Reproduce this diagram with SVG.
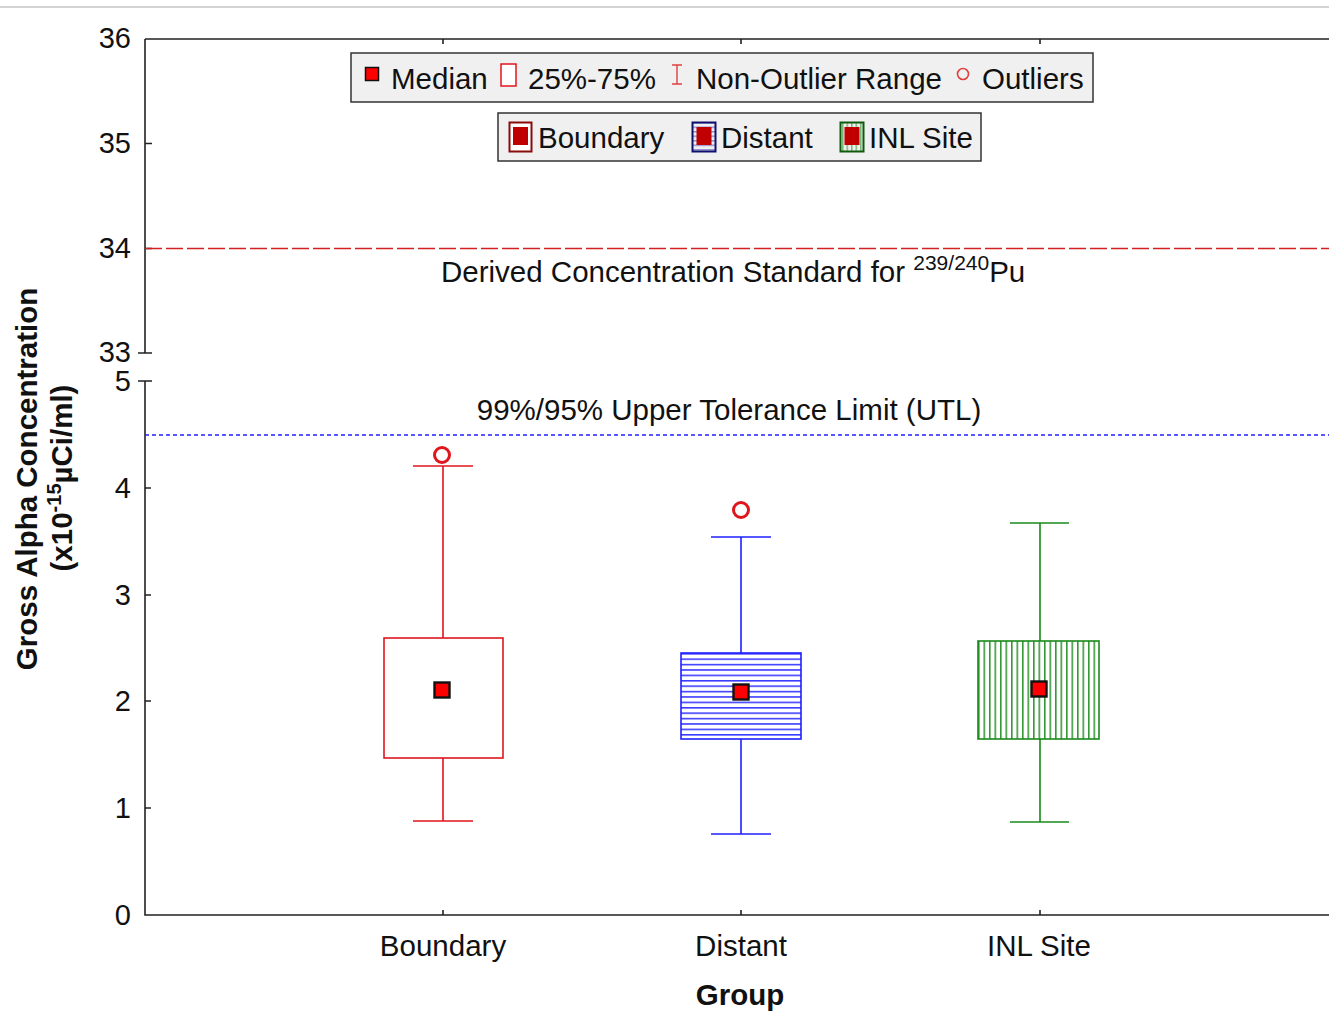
<svg xmlns="http://www.w3.org/2000/svg" width="1329" height="1011" viewBox="0 0 1329 1011">
<defs>
<style>
text{font-family:"Liberation Sans",Arial,sans-serif;fill:#111}
.t{font-size:29.5px}
.tick{font-size:29px;text-anchor:end}
.ax{stroke:#222;stroke-width:1.6;fill:none}
.med{fill:#ff0000;stroke:#111;stroke-width:2.4}
.red{stroke:#e0161e;stroke-width:1.6;fill:none}
.blue{stroke:#2020ff;stroke-width:1.6;fill:none}
.green{stroke:#1a8a1a;stroke-width:1.6;fill:none}
.leg{fill:#f0f0f0;stroke:#333;stroke-width:1.5}
.out{fill:none;stroke:#e0161e;stroke-width:3}
</style>
<pattern id="hh" patternUnits="userSpaceOnUse" x="0" y="653" width="10" height="5.4">
<line x1="0" y1="0.8" x2="10" y2="0.8" stroke="#2020ff" stroke-width="1.4"/>
</pattern>
<pattern id="vh" patternUnits="userSpaceOnUse" x="978" y="0" width="5.5" height="10">
<line x1="0.8" y1="0" x2="0.8" y2="10" stroke="#1a8a1a" stroke-width="1.4"/>
</pattern>
<pattern id="hh2" patternUnits="userSpaceOnUse" x="0" y="122" width="10" height="4.5">
<line x1="0" y1="0.8" x2="10" y2="0.8" stroke="#6060c0" stroke-width="1"/>
</pattern>
<pattern id="vh2" patternUnits="userSpaceOnUse" x="509" y="0" width="4.5" height="10">
<line x1="0.8" y1="0" x2="0.8" y2="10" stroke="#3a9a3a" stroke-width="1"/>
</pattern>
</defs>
<rect width="1329" height="1011" fill="#fff"/>
<line x1="0" y1="7" x2="1329" y2="7" stroke="#c4c4c4" stroke-width="1.5"/>

<g id="axes">
<path class="ax" d="M145,39 H1329 M145,39 V353 M138,353 H152 M145,143.5 H152 M145,248.5 H152 M443,39 V44 M741,39 V44 M1040,39 V44"/>
<path class="ax" d="M145,381 V915 H1329 M138,381 H152 M145,488 H151 M145,595 H151 M145,701 H151 M145,808 H151 M443,915 V910 M741,915 V910 M1040,915 V910"/>
<text class="tick" x="131" y="48">36</text>
<text class="tick" x="131" y="153">35</text>
<text class="tick" x="131" y="258">34</text>
<text class="tick" x="131" y="362">33</text>
<text class="tick" x="131" y="391">5</text>
<text class="tick" x="131" y="498">4</text>
<text class="tick" x="131" y="605">3</text>
<text class="tick" x="131" y="711">2</text>
<text class="tick" x="131" y="818">1</text>
<text class="tick" x="131" y="925">0</text>
<text class="t" x="443" y="956" text-anchor="middle">Boundary</text>
<text class="t" x="741" y="956" text-anchor="middle">Distant</text>
<text class="t" x="1039" y="956" text-anchor="middle">INL Site</text>
<text class="t" x="740" y="1005" text-anchor="middle" font-weight="bold">Group</text>
<g transform="rotate(-90)">
<text class="t" x="-479" y="37" text-anchor="middle" font-weight="bold">Gross Alpha Concentration</text>
<text class="t" x="-478" y="72" text-anchor="middle" font-weight="bold">(x10<tspan font-size="20" dy="-11">-15</tspan><tspan dy="11">µCi/ml)</tspan></text>
</g>
</g>

<g id="reference-lines">
<line x1="145" y1="248.5" x2="1329" y2="248.5" stroke="#d42020" stroke-width="1.6" stroke-dasharray="17,4"/>
<text class="t" x="441" y="282">Derived Concentration Standard for <tspan font-size="21" dy="-12">239/240</tspan><tspan dy="12">Pu</tspan></text>
<line x1="145" y1="435" x2="1329" y2="435" stroke="#2020ff" stroke-width="1.4" stroke-dasharray="4,3"/>
<text class="t" x="729" y="420" text-anchor="middle">99%/95% Upper Tolerance Limit (UTL)</text>
</g>

<g id="boundary">
<path class="red" d="M443,466 V638 M443,758 V821 M413,466 H473 M413,821 H473"/>
<rect x="384" y="638" width="119" height="120" fill="#fff" stroke="#e0161e" stroke-width="1.6"/>
<circle class="out" cx="442" cy="455" r="7.5"/>
<rect class="med" x="434.5" y="682.5" width="15" height="15"/>
</g>

<g id="distant">
<path class="blue" d="M741,537 V653 M741,739 V834 M711,537 H771 M711,834 H771"/>
<rect x="681" y="653" width="120" height="86" fill="url(#hh)" stroke="#2020ff" stroke-width="1.6"/>
<circle class="out" cx="741" cy="510" r="7.5"/>
<rect class="med" x="733.5" y="684.5" width="15" height="15"/>
</g>

<g id="inl-site">
<path class="green" d="M1040,523 V641 M1040,739 V822 M1010,523 H1069 M1010,822 H1069"/>
<rect x="978" y="641" width="121" height="98" fill="url(#vh)" stroke="#1a8a1a" stroke-width="1.6"/>
<rect class="med" x="1031.5" y="681.5" width="15" height="15"/>
</g>

<g id="legend-1">
<rect class="leg" x="351" y="53" width="742" height="49"/>
<rect x="365.5" y="67.5" width="13" height="13" fill="#ff0000" stroke="#111" stroke-width="1.5"/>
<text class="t" x="391" y="89">Median</text>
<rect x="501" y="64" width="15" height="22" fill="#fff" stroke="#e0161e" stroke-width="1.5"/>
<text class="t" x="528" y="89">25%-75%</text>
<path d="M677,65 V84 M672,65 H682 M672,84 H682" stroke="#e04040" stroke-width="1.4" fill="none"/>
<text class="t" x="696" y="89">Non-Outlier Range</text>
<circle cx="963" cy="74" r="5.5" fill="none" stroke="#e04040" stroke-width="1.6"/>
<text class="t" x="982" y="89">Outliers</text>
</g>

<g id="legend-2">
<rect class="leg" x="498" y="113" width="483" height="48"/>
<rect x="509.5" y="122.5" width="22" height="29" fill="#fff" stroke="#8b0a0a" stroke-width="2"/>
<rect x="513" y="127" width="15" height="18" fill="#c00000"/>
<text class="t" x="538" y="148">Boundary</text>
<rect x="692.5" y="122.5" width="23" height="29" fill="url(#hh2)" stroke="#10106e" stroke-width="2"/>
<rect x="696.5" y="127" width="15" height="18" fill="#c00000"/>
<text class="t" x="721" y="148">Distant</text>
<rect x="840.5" y="122.5" width="23" height="29" fill="url(#vh2)" stroke="#0f5a0f" stroke-width="2"/>
<rect x="844.5" y="127" width="15" height="18" fill="#c00000"/>
<text class="t" x="869" y="148">INL Site</text>
</g>
</svg>
